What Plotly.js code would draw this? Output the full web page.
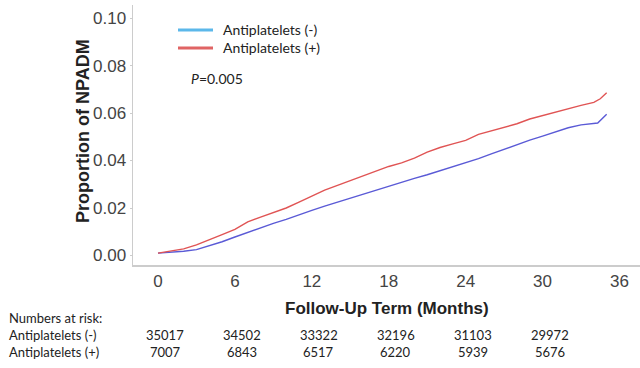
<!DOCTYPE html>
<html><head><meta charset="utf-8">
<script src="https://cdn.plot.ly/plotly-3.0.1.min.js"></script>
<style>body{margin:0;background:#fff}#c{width:640px;height:368px}</style>
</head><body><div id="c"></div>
<script>
const monthsNeg = [0,1,2,3,4,5,6,7,8,9,10,11,12,13,14,15,16,17,18,19,20,21,22,23,24,25,26,27,28,29,30,31,32,33,33.8,34.3,35];
const propNeg = [0.001,0.0013,0.0018,0.0025,0.004,0.0058,0.0078,0.0098,0.0118,0.0135,0.0152,0.0172,0.019,0.0208,0.0225,0.0242,0.0258,0.0275,0.0292,0.0308,0.0325,0.034,0.0357,0.0373,0.0392,0.0408,0.0428,0.0448,0.0468,0.0486,0.0503,0.052,0.0538,0.055,0.0556,0.0558,0.0595];
const monthsPos = [0,1,2,3,4,5,6,7,8,9,10,11,12,13,14,15,16,17,18,19,20,21,22,23,24,25,26,27,28,29,30,31,32,33,34,34.5,35];
const propPos = [0.001,0.0018,0.0028,0.0045,0.0065,0.0088,0.011,0.0142,0.0162,0.018,0.02,0.0225,0.025,0.0275,0.0295,0.0315,0.0335,0.0355,0.0375,0.039,0.041,0.0435,0.0455,0.047,0.0485,0.051,0.0525,0.054,0.0555,0.0575,0.059,0.0605,0.062,0.0632,0.0645,0.066,0.0685];
const seriesNames = ["Antiplatelets (-)", "Antiplatelets (+)"];
const legendColors = ['#5cb8ea', '#e06464'];
const riskMonths = [0,6,12,18,24,30];
const riskNeg = [35017,34502,33322,32196,31103,29972];
const riskPos = [7007,6843,6517,6220,5939,5676];
const xTicks = [0,6,12,18,24,30,36];
const yTicks = [0,0.02,0.04,0.06,0.08,0.10];
const yTickText = ["0.00","0.02","0.04","0.06","0.08","0.10"];

const traces = [
  {x: monthsNeg, y: propNeg, mode:'lines', name: seriesNames[0], line:{color:'#5a5ad6', width:1.4}, showlegend:false, hoverinfo:'skip'},
  {x: monthsPos, y: propPos, mode:'lines', name: seriesNames[1], line:{color:'#e05454', width:1.4}, showlegend:false, hoverinfo:'skip'}
];
const W = 640, H = 368, ML = 133, MR = 0, MT = 5, MB = 103;
const px = v => (v - ML) / (W - ML - MR);
const py = v => (H - MB - v) / (H - MT - MB);
const f = 'Liberation Sans, Arial, sans-serif';
const fc = 'Lato, sans-serif';
const ann = [];
const shapes = [];
seriesNames.forEach((n,i)=>{
  const yy = 30 + i*18;
  shapes.push({type:'line', xref:'paper', yref:'paper', x0:px(178), x1:px(213), y0:py(yy), y1:py(yy),
    line:{color:legendColors[i], width:3}});
  ann.push({xref:'paper', yref:'paper', x:px(221), y:py(yy), text:n, showarrow:false, xanchor:'left', yanchor:'middle',
    font:{family:fc, size:14, color:'#222'}});
});
ann.push({xref:'paper', yref:'paper', x:0.5, y:0, text:'<b>Follow-Up Term (Months)</b>', showarrow:false,
  xanchor:'center', yanchor:'middle', yshift:-43, font:{family:f, size:17, color:'#222'}});
ann.push({xref:'paper', yref:'paper', x:0, y:0.5, text:'<b>Proportion of NPADM</b>', showarrow:false, textangle:-90,
  xanchor:'center', yanchor:'middle', xshift:-50, yshift:4, font:{family:f, size:18, color:'#222'}});
ann.push({xref:'paper', yref:'paper', x:px(189), y:py(78), text:'<i>P</i>=0.005', showarrow:false, xanchor:'left', yanchor:'middle',
  font:{family:fc, size:14, color:'#222'}});
const rowLabels = ['Numbers at risk:', seriesNames[0], seriesNames[1]];
rowLabels.forEach((t,i)=>{
  ann.push({xref:'paper', yref:'paper', x:px(7), y:py(318 + i*17), text:t, showarrow:false, xanchor:'left', yanchor:'middle',
    font:{family:fc, size:13, color:'#222'}});
});
riskMonths.forEach((m,i)=>{
  ann.push({xref:'x', yref:'paper', x:m, y:py(335), text:String(riskNeg[i]), showarrow:false, xanchor:'center', yanchor:'middle',
    xshift:7, font:{family:fc, size:13, color:'#222'}});
  ann.push({xref:'x', yref:'paper', x:m, y:py(352), text:String(riskPos[i]), showarrow:false, xanchor:'center', yanchor:'middle',
    xshift:7, font:{family:fc, size:13, color:'#222'}});
});

const layout = {
  width:W, height:H,
  margin:{l:ML, r:MR, t:MT, b:MB},
  paper_bgcolor:'#fff', plot_bgcolor:'#fff',
  showlegend:false,
  xaxis:{range:[-1.95,37.6], tickvals:xTicks, ticktext:xTicks.map(String), showgrid:false, zeroline:false,
    showline:true, linecolor:'#cccccc', linewidth:1.5, ticks:'', ticklen:0,
    tickfont:{family:f, size:17, color:'#444'}},
  yaxis:{range:[-0.004,0.1055], tickvals:yTicks, ticktext:yTickText, showgrid:false, zeroline:false,
    showline:true, linecolor:'#cccccc', linewidth:1.5, ticks:'outside', ticklen:2, tickcolor:'#cccccc',
    tickfont:{family:f, size:17, color:'#444'}},
  annotations: ann,
  shapes: shapes
};
Plotly.newPlot('c', traces, layout, {staticPlot:true});
</script></body></html>
